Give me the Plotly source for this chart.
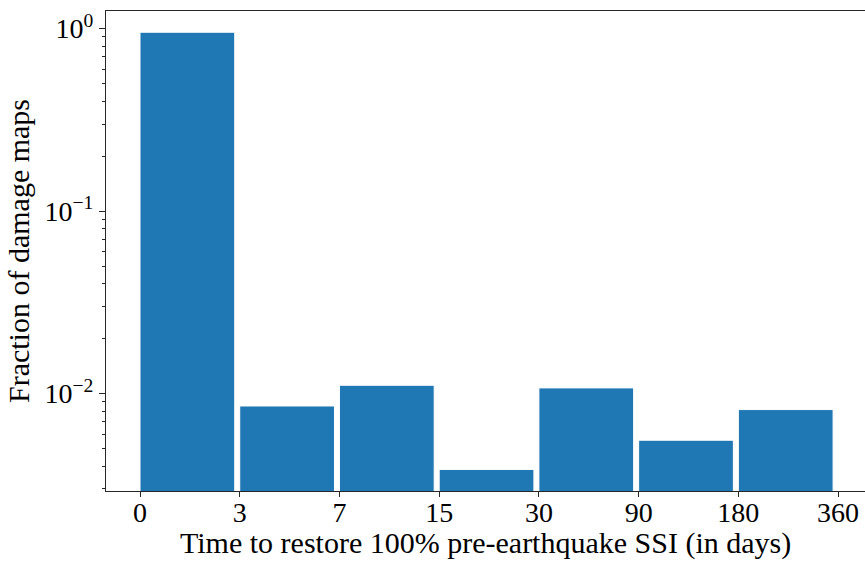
import plotly.graph_objects as go

# Histogram of restoration times (bins labelled by their edges, in days)
bin_edges = ["0", "3", "7", "15", "30", "90", "180", "360"]
fractions = [0.955, 0.00855, 0.0111, 0.00384, 0.01074, 0.00555, 0.00817]

y_major = [0.01, 0.1, 1]
y_major_text = ["10<sup>−2</sup>", "10<sup>−1</sup>", "10<sup>0</sup>"]
y_minor = [m * 10.0 ** e for e in (-3, -2, -1) for m in range(2, 10)]
y_minor = [v for v in y_minor if v > 0.0029]

bar_width = 0.95
x_centers = [i + bar_width / 2 for i in range(len(fractions))]

font_family = "Liberation Serif, Times New Roman, serif"
axis_color = "#262626"

fig = go.Figure(
    go.Bar(
        x=x_centers,
        y=fractions,
        width=bar_width,
        marker=dict(color="#1f77b4", line=dict(color="white", width=1)),
    )
)

fig.update_layout(
    width=865,
    height=562,
    margin=dict(l=106, r=0, t=11, b=71, autoexpand=False),
    paper_bgcolor="white",
    plot_bgcolor="white",
    showlegend=False,
    font=dict(family=font_family, size=27, color="black"),
)

fig.update_xaxes(
    range=[-0.341, 7.27],
    tickmode="array",
    tickvals=list(range(len(bin_edges))),
    ticktext=bin_edges,
    ticks="outside",
    ticklen=5,
    tickwidth=1,
    tickcolor=axis_color,
    ticklabelstandoff=-9,
    showgrid=False,
    zeroline=False,
    showline=True,
    linecolor=axis_color,
    linewidth=1,
    mirror=True,
    tickfont=dict(size=28),
    automargin=False,
)

# x-axis title placed directly under the tick labels
fig.add_annotation(
    text="Time to restore 100% pre-earthquake SSI (in days)",
    xref="paper", yref="paper", x=0.5, y=0,
    xanchor="center", yanchor="top", yshift=-33,
    showarrow=False, font=dict(size=30),
)

fig.update_yaxes(
    type="log",
    range=[-2.534, 0.0964],
    tickmode="array",
    tickvals=y_major,
    ticktext=y_major_text,
    ticks="outside",
    ticklen=6,
    tickwidth=1,
    tickcolor=axis_color,
    minor=dict(tickmode="array", tickvals=y_minor, ticks="outside",
               ticklen=3.5, tickwidth=0.8, tickcolor=axis_color, showgrid=False),
    showgrid=False,
    zeroline=False,
    showline=True,
    linecolor=axis_color,
    linewidth=1,
    tickfont=dict(size=28),
    automargin=False,
    title=dict(text="Fraction of damage maps", font=dict(size=30), standoff=6),
)

fig.write_html("out.html")
